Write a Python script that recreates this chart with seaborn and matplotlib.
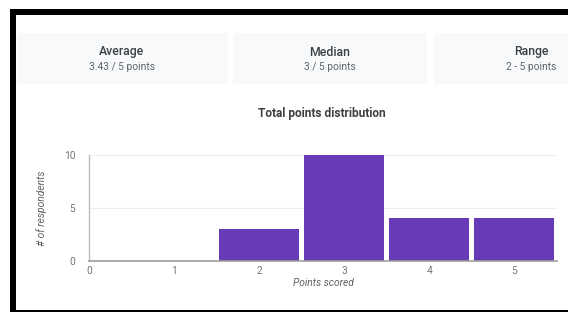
import matplotlib
matplotlib.use("Agg")
import matplotlib.pyplot as plt
import seaborn as sns
from matplotlib.patches import Rectangle

# data
points = [0, 1, 2, 3, 4, 5]
respondents = [0, 0, 3, 10, 4, 4]
stat_names = ["Average", "Median", "Range"]
stat_values = ["3.43 / 5 points", "3 / 5 points", "2 - 5 points"]

W, H = 568, 312
sns.set_theme(style="white")
plt.rcParams['font.family'] = ['Roboto', 'DejaVu Sans']

fig = plt.figure(figsize=(W / 100, H / 100), dpi=100)
fig.patch.set_facecolor("white")


def px_rect(x0, y0, x1, y1, color, z=0):
    # rectangle given in pixel coords (origin top-left)
    fig.patches.append(Rectangle((x0 / W, 1 - y1 / H), (x1 - x0) / W, (y1 - y0) / H,
                                 transform=fig.transFigure, facecolor=color,
                                 edgecolor="none", zorder=z))


# black frame of the screenshot
px_rect(10, 9, W, 15, "black")
px_rect(10, 9, 16, H, "black")
px_rect(10, 309.5, W, H, "black")

# stat cards
cards = [(17, 228), (233, 427), (434, W)]
centers = [122, 330, 531]
for (x0, x1), cx, name, val in zip(cards, centers, stat_names, stat_values):
    px_rect(x0, 33, x1, 84, "#f8f9fa")
    fig.text(cx / W, 1 - 52 / H, name, ha="center", va="center",
             fontsize=8.8, color="#3c4043", fontweight="medium")
    fig.text(cx / W, 1 - 67 / H, val, ha="center", va="center",
             fontsize=7.4, color="#5f6368")

fig.text(322 / W, 1 - 113 / H, "Total points distribution", ha="center", va="center",
         fontsize=8.6, fontweight="bold", color="#3c4043")

ax = fig.add_axes([89 / W, 1 - 260.7 / H, (557 - 89) / W, (260.7 - 155) / H])
sns.barplot(x=points, y=respondents, native_scale=True, width=0.94,
            color="#673ab7", saturation=1, linewidth=0, ax=ax)
ax.set_xlim(0, 5.5)
ax.set_ylim(0, 10)
ax.set_xticks(points)
ax.set_yticks([0, 5, 10])
ax.yaxis.grid(True, color="#eeeeee", linewidth=0.8)
ax.set_axisbelow(True)
for s in ["top", "right"]:
    ax.spines[s].set_visible(False)
ax.spines["left"].set_color("#bdbdbd")
ax.spines["bottom"].set_color("#9e9e9e")
ax.spines["left"].set_linewidth(1)
ax.spines["bottom"].set_linewidth(1.2)
ax.tick_params(axis="both", length=0, labelsize=7.3, labelcolor="#757575")
ax.tick_params(axis="y", pad=10)
ax.tick_params(axis="x", pad=4)
ax.set_xlabel("Points scored", fontsize=7.4, fontstyle="italic", color="#5f6368", labelpad=1)
ax.set_ylabel("# of respondents", fontsize=7.4, fontstyle="italic", color="#5f6368", labelpad=12)

fig.savefig("out.png", dpi=100, facecolor="white")
